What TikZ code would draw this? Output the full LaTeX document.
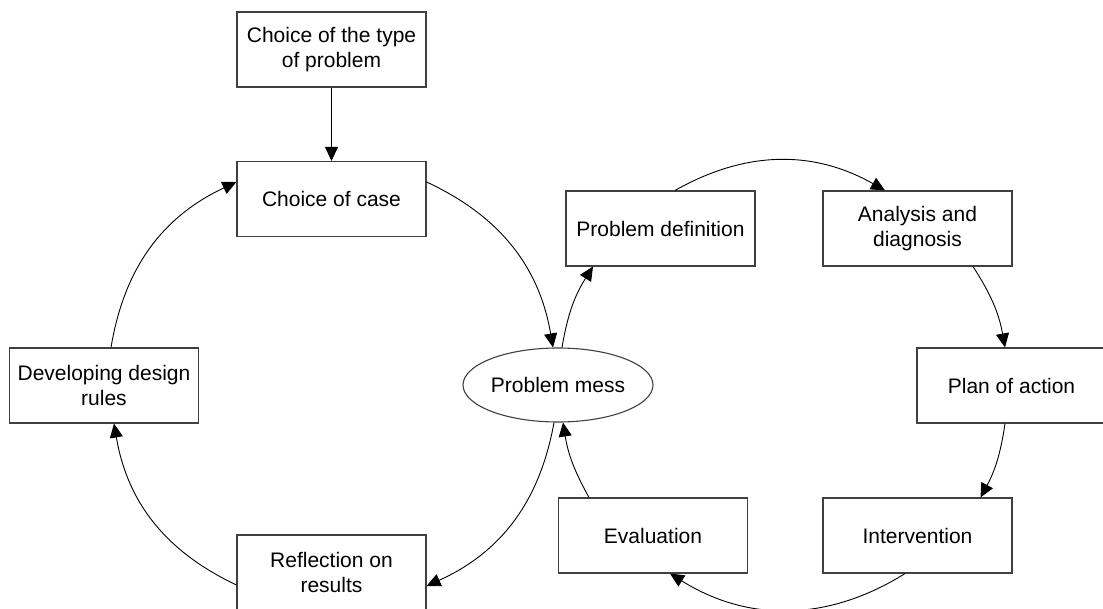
\documentclass[tikz,border=0pt]{standalone}
\usepackage{fontspec}
\setmainfont{Liberation Sans}
\usetikzlibrary{arrows.meta,shapes.geometric}
\begin{document}
\begin{tikzpicture}[x=1pt,y=1pt,
  box/.style={draw=black!75, line width=1.1pt, minimum width=189pt, minimum height=75pt, inner sep=0pt, align=center, font=\fontsize{21}{25}\selectfont},
  oval/.style={ellipse, draw=black!75, line width=1.1pt, minimum width=190pt, minimum height=74pt, inner sep=0pt, font=\fontsize{21}{25}\selectfont},
  arr/.style={-{Triangle[length=14pt,width=13pt]}, line width=0.9pt},
]
\useasboundingbox (0,0) rectangle (1103,608);
\fill[white] (0,0) rectangle (1103,608);

\node[box] (T)  at (331.5,558.5) {Choice of the type\\of problem};
\node[box] (C)  at (331.5,409)   {Choice of case};
\node[box] (PD) at (660.5,379.5) {Problem definition};
\node[box] (AD) at (917.5,379.5) {Analysis and\\diagnosis};
\node[box] (D)  at (104,222.5)   {Developing design\\rules};
\node[oval] (PM) at (558,223)    {Problem mess};
\node[box] (PA) at (1011.5,222.5) {Plan of action};
\node[box] (R)  at (331.5,35.5)  {Reflection on\\results};
\node[box] (E)  at (653,72.5)    {Evaluation};
\node[box] (I)  at (917.5,72.5)  {Intervention};

\draw[arr] (T.south) -- (C.north);
\draw[arr] ([xshift=7pt]D.north) to[bend left=27.7] ([yshift=17pt]C.west);
\draw[arr] ([yshift=17pt]C.east) to[bend left=27.7] ([xshift=-5pt]PM.north);
\draw[arr] ([xshift=-4pt]PM.south) to[bend left=27.7] ([yshift=-13.5pt]R.east);
\draw[arr] ([yshift=-12.5pt]R.west) to[bend left=27.5] ([xshift=10pt]D.south);
\draw[arr] ([xshift=4pt]PM.north) to[bend left=11.4] ([xshift=-67.5pt]PD.south);
\draw[arr] ([xshift=14.5pt]PD.north) to[bend left=29.5] ([xshift=-32.5pt]AD.north);
\draw[arr] ([xshift=55.5pt]AD.south) to[bend left=11.4] ([xshift=-6.5pt]PA.north);
\draw[arr] ([xshift=-6.5pt]PA.south) to[bend left=10] ([xshift=63pt]I.north);
\draw[arr] ([xshift=-12.5pt]I.south) to[bend left=32] ([xshift=17pt]E.south);
\draw[arr] ([xshift=-64pt]E.north) to[bend left=10] ([xshift=5pt]PM.south);
\end{tikzpicture}
\end{document}
